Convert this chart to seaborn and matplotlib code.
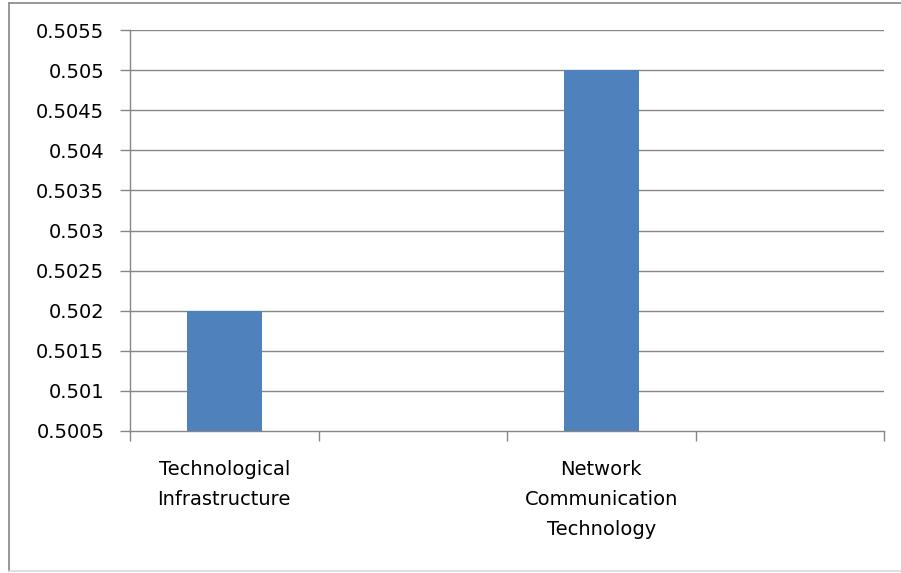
import numpy as np
import pandas as pd
import matplotlib
matplotlib.use("Agg")
import matplotlib.pyplot as plt
import seaborn as sns
from matplotlib.lines import Line2D

categories = ["Technological\nInfrastructure", "gap1", "Network\nCommunication\nTechnology", "gap2"]
tick_labels = ["Technological\nInfrastructure", "", "Network\nCommunication\nTechnology", ""]
values = [0.502, np.nan, 0.505, np.nan]
y_ticks = [0.5005, 0.501, 0.5015, 0.502, 0.5025, 0.503, 0.5035, 0.504, 0.5045, 0.505, 0.5055]
y_tick_labels = ["0.5005", "0.501", "0.5015", "0.502", "0.5025", "0.503", "0.5035", "0.504", "0.5045", "0.505", "0.5055"]

sns.set_theme(style="white")
plt.rcParams["font.family"] = ["DejaVu Sans"]

df = pd.DataFrame({"cat": categories, "val": values})

fig = plt.figure(figsize=(9.01, 5.73), dpi=100)
W, H = 901, 573
ax = fig.add_axes([130 / W, 1 - 431 / H, (884 - 130) / W, (431 - 30) / H])

sns.barplot(data=df, x="cat", y="val", order=categories, color="#4F81BD",
            saturation=1, width=0.4, ax=ax, zorder=3, linewidth=0, edgecolor="none")

grid_c = "#868686"
ax.set_ylim(0.5005, 0.5055)
ax.set_xlim(-0.5, 3.5)
ax.set_yticks(y_ticks)
ax.set_yticklabels(y_tick_labels)
for y in y_ticks[1:]:
    ax.axhline(y, color=grid_c, lw=1.0, zorder=1)

ax.set_xticks([-0.5, 0.5, 1.5, 2.5, 3.5])
ax.set_xticklabels([])
ax.set_xticks([0, 1, 2, 3], minor=True)
ax.set_xticklabels(tick_labels, minor=True, linespacing=1.72)
ax.tick_params(axis="x", which="minor", length=0, pad=21, labelsize=14, labelcolor="black")
ax.tick_params(axis="x", which="major", direction="out", length=7, width=1, color=grid_c, bottom=True)
ax.tick_params(axis="y", direction="out", length=7, width=1, color=grid_c, left=True,
               pad=11.5, labelsize=14, labelcolor="black")

ax.set_xlabel("")
ax.set_ylabel("")
for s in ["top", "right"]:
    ax.spines[s].set_visible(False)
for s in ["left", "bottom"]:
    ax.spines[s].set_color(grid_c)
    ax.spines[s].set_linewidth(1.0)
    ax.spines[s].set_zorder(4)

# outer chart border
fig.add_artist(Line2D([9 / W, 9 / W], [1 - 571 / H, 1 - 3 / H], color=grid_c, lw=1.2, transform=fig.transFigure))
fig.add_artist(Line2D([9 / W, 1.0], [1 - 3 / H, 1 - 3 / H], color=grid_c, lw=1.2, transform=fig.transFigure))
fig.add_artist(Line2D([9 / W, 1.0], [1 - 571 / H, 1 - 571 / H], color="#D9D9D9", lw=1.2, transform=fig.transFigure))

fig.savefig("out.png", dpi=100)
